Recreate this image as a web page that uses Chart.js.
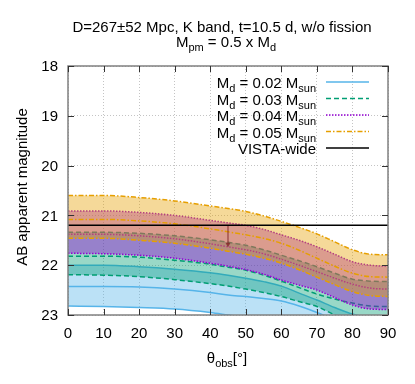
<!DOCTYPE html>
<html>
<head>
<meta charset="utf-8">
<script src="https://cdn.jsdelivr.net/npm/chart.js@4.4.1/dist/chart.umd.min.js"></script>
<style>
  html, body { margin: 0; padding: 0; background: #fff; }
  #wrap { width: 415px; height: 384px; }
</style>
</head>
<body>
<div id="wrap"><canvas id="myChart" width="415" height="384"></canvas></div>
<script>
// viewing angle (deg)
const theta = [0, 10, 20, 30, 40, 45, 50, 55, 60, 65, 70, 75, 80, 85, 90];

// M_d = 0.02 M_sun : bright edge / middle / faint edge of the distance band
const md002Upper = [22.00, 22.00, 22.03, 22.08, 22.15, 22.20, 22.26, 22.33, 22.42, 22.56, 22.70, 22.85, 22.98, 23.05, 23.07];
const md002Mid   = [22.43, 22.43, 22.44, 22.48, 22.55, 22.60, 22.63, 22.67, 22.72, 22.82, 22.95, 23.10, 23.25, 23.33, 23.35];
const md002Lower = [22.82, 22.83, 22.85, 22.88, 22.95, 23.00, 23.05, 23.09, 23.14, 23.25, 23.38, 23.55, 23.68, 23.75, 23.77];

// M_d = 0.03 M_sun
const md003Upper = [21.34, 21.34, 21.36, 21.41, 21.49, 21.54, 21.60, 21.69, 21.80, 21.91, 22.03, 22.16, 22.28, 22.32, 22.33];
const md003Mid   = [21.82, 21.82, 21.84, 21.90, 21.98, 22.04, 22.10, 22.20, 22.32, 22.45, 22.58, 22.68, 22.76, 22.82, 22.83];
const md003Lower = [22.19, 22.20, 22.23, 22.29, 22.37, 22.42, 22.48, 22.55, 22.63, 22.73, 22.83, 23.00, 23.15, 23.20, 23.22];

// M_d = 0.04 M_sun
const md004Upper = [20.91, 20.91, 20.94, 21.00, 21.10, 21.15, 21.20, 21.28, 21.39, 21.50, 21.63, 21.78, 21.93, 22.00, 22.02];
const md004Mid   = [21.38, 21.38, 21.41, 21.47, 21.57, 21.63, 21.69, 21.77, 21.88, 22.00, 22.13, 22.26, 22.38, 22.46, 22.48];
const md004Lower = [21.76, 21.77, 21.80, 21.86, 21.96, 22.02, 22.09, 22.18, 22.30, 22.40, 22.50, 22.65, 22.80, 22.88, 22.89];

// M_d = 0.05 M_sun
const md005Upper = [20.60, 20.60, 20.64, 20.71, 20.81, 20.86, 20.92, 21.01, 21.12, 21.24, 21.37, 21.53, 21.69, 21.78, 21.79];
const md005Mid   = [21.08, 21.08, 21.11, 21.17, 21.27, 21.33, 21.39, 21.46, 21.56, 21.70, 21.86, 22.02, 22.16, 22.23, 22.24];
const md005Lower = [21.46, 21.46, 21.50, 21.56, 21.66, 21.72, 21.78, 21.86, 21.96, 22.09, 22.24, 22.39, 22.53, 22.61, 22.63];

// VISTA-wide depth and the limit arrow
const vistaTheta = [0, 90];
const vistaMag = [21.2, 21.2];
const arrowTheta = [45, 45];
const arrowMag = [21.2, 21.58];

const xTicks = [0, 10, 20, 30, 40, 50, 60, 70, 80, 90];
const yTicks = [18, 19, 20, 21, 22, 23];

const FONT = '"Liberation Sans", Arial, Helvetica, sans-serif';

function pts(xs, ys) {
    return xs.map((x, i) => ({ x: x, y: ys[i] }));
}

const models = [
    { upper: md002Upper, mid: md002Mid, lower: md002Lower, color: '#56b4e9', fillColor: 'rgba(86,180,233,0.4)', dash: [], label: '0.02', order: 4 },
    { upper: md003Upper, mid: md003Mid, lower: md003Lower, color: '#009e73', fillColor: 'rgba(0,158,115,0.4)', dash: [5, 3], label: '0.03', order: 3 },
    { upper: md004Upper, mid: md004Mid, lower: md004Lower, color: '#9400d3', fillColor: 'rgba(148,0,211,0.4)', dash: [1.5, 1.5], label: '0.04', order: 2 },
    { upper: md005Upper, mid: md005Mid, lower: md005Lower, color: '#e69f00', fillColor: 'rgba(230,159,0,0.4)', dash: [5, 2, 1.5, 2], label: '0.05', order: 1 }
];

const datasets = [];
models.forEach(m => {
    const lowerIdx = datasets.length;
    datasets.push({ data: pts(theta, m.lower), borderColor: m.color, borderDash: m.dash, fill: false, order: m.order });
    datasets.push({ data: pts(theta, m.mid), borderColor: m.color, borderDash: m.dash, fill: false, order: m.order });
    datasets.push({ data: pts(theta, m.upper), borderColor: m.color, borderDash: m.dash, fill: lowerIdx, backgroundColor: m.fillColor, order: m.order });
});
datasets.push({ data: pts(vistaTheta, vistaMag), borderColor: '#000', borderWidth: 1.5, fill: false, order: 0 });
datasets.push({
    data: pts(arrowTheta, arrowMag), borderColor: 'rgba(130,40,40,0.8)', borderWidth: 1.2, fill: false, order: 0,
    pointRadius: [0, 3], pointStyle: 'triangle', rotation: 180,
    pointBackgroundColor: 'rgba(130,40,40,0.8)', pointBorderWidth: 0
});

// text with subscripts: parts = [[text, isSub], ...]
function richWidth(ctx, parts) {
    let w = 0;
    parts.forEach(p => {
        ctx.font = (p[1] ? '11px ' : '15px ') + FONT;
        w += ctx.measureText(p[0]).width;
    });
    return w;
}
function drawRich(ctx, parts, x, y, align) {
    const w = richWidth(ctx, parts);
    let cx = align === 'right' ? x - w : (align === 'center' ? x - w / 2 : x);
    ctx.textAlign = 'left';
    ctx.textBaseline = 'alphabetic';
    ctx.fillStyle = '#000';
    parts.forEach(p => {
        ctx.font = (p[1] ? '11px ' : '15px ') + FONT;
        ctx.fillText(p[0], cx, y + (p[1] ? 4 : 0));
        cx += ctx.measureText(p[0]).width;
    });
}

const decor = {
    id: 'decor',
    afterDraw(chart) {
        const ctx = chart.ctx;
        const a = chart.chartArea;
        const xs = chart.scales.x, ys = chart.scales.y;
        ctx.save();

        // frame
        ctx.strokeStyle = '#808080';
        ctx.lineWidth = 1.5;
        ctx.strokeRect(a.left, a.top, a.right - a.left, a.bottom - a.top);

        // inward ticks on all four sides
        ctx.strokeStyle = '#333';
        ctx.lineWidth = 1;
        ctx.beginPath();
        xTicks.forEach(t => {
            const px = Math.round(xs.getPixelForValue(t)) + 0.5;
            ctx.moveTo(px, a.bottom); ctx.lineTo(px, a.bottom - 6);
            ctx.moveTo(px, a.top); ctx.lineTo(px, a.top + 6);
        });
        yTicks.forEach(t => {
            const py = Math.round(ys.getPixelForValue(t)) + 0.5;
            ctx.moveTo(a.left, py); ctx.lineTo(a.left + 6, py);
            ctx.moveTo(a.right, py); ctx.lineTo(a.right - 6, py);
        });
        ctx.stroke();

        // tick labels
        ctx.fillStyle = '#000';
        ctx.font = '15px ' + FONT;
        ctx.textAlign = 'center';
        ctx.textBaseline = 'alphabetic';
        xTicks.forEach(t => ctx.fillText(String(t), xs.getPixelForValue(t), a.bottom + 23));
        ctx.textAlign = 'right';
        ctx.textBaseline = 'middle';
        yTicks.forEach(t => ctx.fillText(String(t), a.left - 10, ys.getPixelForValue(t) + 1));

        // axis titles
        ctx.save();
        ctx.translate(23, 187);
        ctx.rotate(-Math.PI / 2);
        ctx.textAlign = 'center';
        ctx.textBaseline = 'middle';
        ctx.font = '15px ' + FONT;
        ctx.fillText('AB apparent magnitude', 0, 0);
        ctx.restore();
        drawRich(ctx, [['θ', false], ['obs', true], ['[°]', false]], 227, 363, 'center');

        // title
        drawRich(ctx, [['D=267±52 Mpc, K band, t=10.5 d, w/o fission', false]], 222, 32, 'center');
        drawRich(ctx, [['M', false], ['pm', true], [' = 0.5 x M', false], ['d', true]], 226, 47, 'center');

        // legend
        const rows = models.map(m => ({ parts: [['M', false], ['d', true], [' = ' + m.label + ' M', false], ['sun', true]], color: m.color, dash: m.dash, width: 1.5 }));
        rows.push({ parts: [['VISTA-wide', false]], color: '#000', dash: [], width: 1.5 });
        rows.forEach((r, i) => {
            const cy = 82 + i * 16.5;
            drawRich(ctx, r.parts, 316, cy + 6, 'right');
            ctx.strokeStyle = r.color;
            ctx.lineWidth = r.width;
            ctx.setLineDash(r.dash);
            ctx.beginPath();
            ctx.moveTo(326, cy); ctx.lineTo(369, cy);
            ctx.stroke();
            ctx.setLineDash([]);
        });
        ctx.restore();
    }
};

new Chart(document.getElementById('myChart'), {
    type: 'line',
    data: { datasets: datasets },
    options: {
        responsive: false,
        animation: false,
        devicePixelRatio: 1,
        layout: { padding: { left: 68, right: 27, top: 66, bottom: 69 } },
        elements: {
            line: { borderWidth: 1.5, cubicInterpolationMode: 'monotone' },
            point: { radius: 0 }
        },
        plugins: {
            legend: { display: false },
            title: { display: false },
            tooltip: { enabled: false },
            filler: { propagate: false }
        },
        scales: {
            x: {
                type: 'linear', min: 0, max: 90,
                ticks: { display: false, stepSize: 10 },
                grid: { color: '#c4c4c4', lineWidth: 1, drawTicks: false },
                border: { display: false, dash: [1, 2] }
            },
            y: {
                type: 'linear', min: 18, max: 23, reverse: true,
                ticks: { display: false, stepSize: 1 },
                grid: { color: '#c4c4c4', lineWidth: 1, drawTicks: false },
                border: { display: false, dash: [1, 2] }
            }
        }
    },
    plugins: [decor]
});
</script>
</body>
</html>
